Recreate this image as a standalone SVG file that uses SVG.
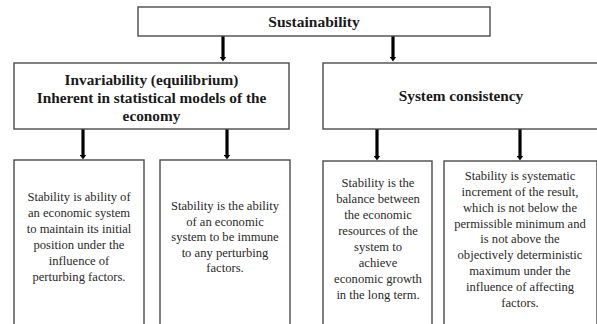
<svg xmlns="http://www.w3.org/2000/svg" width="597" height="324" viewBox="0 0 597 324">
<defs>
<style>
.box{fill:#fff;stroke:#4a4a4a;stroke-width:1.4}
.hd{font-family:"Liberation Serif","DejaVu Serif","Times New Roman",serif;font-weight:bold;fill:#1a1a1a;text-anchor:middle}
.tx{font-family:"Liberation Serif","DejaVu Serif","Times New Roman",serif;font-size:12.6px;fill:#2a2a2a;text-anchor:middle}
.ar{stroke:#000;stroke-width:3.2;fill:none;marker-end:url(#ah)}
</style>
<marker id="ah" markerUnits="userSpaceOnUse" markerWidth="5" markerHeight="7" viewBox="0 0 5 7" refX="0.5" refY="3.5" orient="auto">
<path d="M0,0 L5,3.5 L0,7 z" fill="#000"/>
</marker>
</defs>
<rect width="597" height="324" fill="#fff"/>
<g id="connectors">
<path class="ar" d="M223,36 V57"/>
<path class="ar" d="M393,36 V57"/>
<path class="ar" d="M83,129 V155"/>
<path class="ar" d="M227,129 V155"/>
<path class="ar" d="M377,129 V156"/>
<path class="ar" d="M520,129 V156"/>
</g>
<g id="sustainability">
<rect class="box" x="138" y="7" width="352" height="29"/>
<text class="hd" x="314" y="27" font-size="15.5">Sustainability</text>
</g>
<g id="invariability">
<rect class="box" x="14" y="63" width="275" height="66"/>
<text class="hd" font-size="15.3"><tspan x="151.5" y="85">Invariability (equilibrium)</tspan><tspan x="151.5" y="103">Inherent in statistical models of the</tspan><tspan x="151.5" y="121">economy</tspan></text>
</g>
<g id="consistency">
<rect class="box" x="323" y="63" width="280" height="66"/>
<text class="hd" x="461" y="101" font-size="15.3">System consistency</text>
</g>
<g id="def1">
<rect class="box" x="14" y="160" width="130" height="170"/>
<text class="tx"><tspan x="79" y="201">Stability is ability of</tspan><tspan x="79" y="217">an economic system</tspan><tspan x="79" y="233">to maintain its initial</tspan><tspan x="79" y="249">position under the</tspan><tspan x="79" y="265">influence of</tspan><tspan x="79" y="281">perturbing factors.</tspan></text>
</g>
<g id="def2">
<rect class="box" x="160" y="160" width="130" height="170"/>
<text class="tx"><tspan x="225" y="210">Stability is the ability</tspan><tspan x="225" y="226">of an economic</tspan><tspan x="225" y="241">system to be immune</tspan><tspan x="225" y="257">to any perturbing</tspan><tspan x="225" y="272">factors.</tspan></text>
</g>
<g id="def3">
<rect class="box" x="323" y="161" width="109" height="170"/>
<text class="tx"><tspan x="378" y="187">Stability is the</tspan><tspan x="378" y="203">balance between</tspan><tspan x="378" y="219">the economic</tspan><tspan x="378" y="235">resources of the</tspan><tspan x="378" y="251">system to</tspan><tspan x="378" y="267">achieve</tspan><tspan x="378" y="283">economic growth</tspan><tspan x="378" y="299">in the long term.</tspan></text>
</g>
<g id="def4">
<rect class="box" x="444" y="161" width="153" height="170"/>
<text class="tx"><tspan x="520" y="180">Stability is systematic</tspan><tspan x="520" y="196">increment of the result,</tspan><tspan x="520" y="212">which is not below the</tspan><tspan x="520" y="228">permissible minimum and</tspan><tspan x="520" y="243">is not above the</tspan><tspan x="520" y="259">objectively deterministic</tspan><tspan x="520" y="275">maximum under the</tspan><tspan x="520" y="291">influence of affecting</tspan><tspan x="520" y="307">factors.</tspan></text>
</g>
</svg>
